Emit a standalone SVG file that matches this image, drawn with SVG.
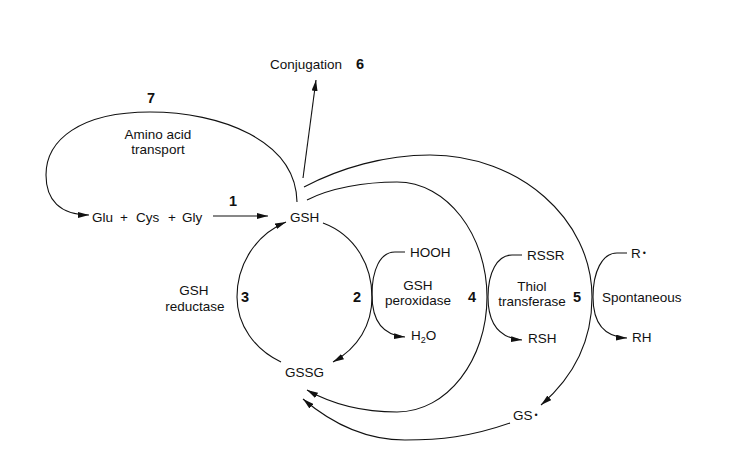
<svg xmlns="http://www.w3.org/2000/svg" width="748" height="460" viewBox="0 0 748 460">
<style>
text{font-family:"Liberation Sans",Arial,sans-serif;font-size:13.5px;fill:#111}
.n{font-weight:bold;font-size:14.5px}
.c{text-anchor:middle}
.d{font-size:9px}
.l{fill:none;stroke:#111;stroke-width:1.1}
.a{marker-end:url(#ah)}
</style>
<defs>
<marker id="ah" markerUnits="userSpaceOnUse" markerWidth="12" markerHeight="6" refX="11" refY="3" orient="auto">
<path d="M0,0 L11,3 L0,6 z" fill="#111"/>
</marker>
</defs>
<rect width="748" height="460" fill="#fff"/>
<g id="connectors">
<path class="l a" d="M297 202 C296 140,220 112,150 112 C80 112,46 140,46 175 C46 200,60 215,89 215"/>
<path class="l a" d="M213 216 L268 216"/>
<path class="l a" d="M303 178 L316 80"/>
<path class="l a" d="M323 223 C355 235,372 265,372 297 C372 325,358 348,333 362"/>
<path class="l a" d="M281 362 C255 350,237 325,237 297 C237 265,255 235,286 222"/>
<path class="l a" d="M405 252 L395 252 C380 252,372 270,372 295 C372 318,380 335,405 337"/>
<path class="l a" d="M307 200 C330 188,365 182,397 182 C447 182,487 235,487 297 C487 360,447 412,397 412 C360 412,330 403,307 390"/>
<path class="l a" d="M522 255 L512 255 C497 255,488 273,488 297 C488 320,497 338,522 340"/>
<path class="l a" d="M304 187 C340 168,385 155,430 155 C519 155,592 219,592 297 C592 345,570 380,541 405"/>
<path class="l a" d="M627 253 L617 253 C602 253,593 272,593 297 C593 320,602 337,627 338"/>
<path class="l a" d="M510 423 C470 437,440 440,405 440 C365 440,330 422,303 399"/>
</g>
<g id="conjugation"><text x="270" y="69">Conjugation</text><text class="n" x="356" y="69">6</text></g>
<g id="transport"><text class="n c" x="151" y="103">7</text><text class="c" x="158" y="139">Amino acid</text><text class="c" x="158" y="154">transport</text></g>
<g id="aminoacids"><text y="222"><tspan x="92">Glu</tspan><tspan x="120">+</tspan><tspan x="136">Cys</tspan><tspan x="168">+</tspan><tspan x="182">Gly</tspan></text><text class="n c" x="233" y="206">1</text></g>
<g id="gsh"><text x="290" y="222">GSH</text></g>
<g id="gssg"><text x="285" y="377">GSSG</text></g>
<g id="reductase"><text class="c" x="194" y="295">GSH</text><text class="c" x="195" y="311">reductase</text><text class="n c" x="245" y="302">3</text></g>
<g id="peroxidase"><text class="n c" x="357" y="302">2</text><text class="c" x="418" y="290">GSH</text><text class="c" x="418" y="305">peroxidase</text><text x="410" y="257">HOOH</text><text x="411" y="340">H<tspan font-size="9" dy="3">2</tspan><tspan dy="-3">O</tspan></text></g>
<g id="transferase"><text class="n c" x="472" y="302">4</text><text class="c" x="532" y="291">Thiol</text><text class="c" x="532" y="306">transferase</text><text x="527" y="260">RSSR</text><text x="528" y="343">RSH</text></g>
<g id="spontaneous"><text class="n c" x="577" y="302">5</text><text x="602" y="302">Spontaneous</text><text x="631" y="258">R<tspan class="d" dx="2" dy="-2">•</tspan></text><text x="632" y="342">RH</text></g>
<g id="gsradical"><text x="513" y="420">GS<tspan class="d" dx="2" dy="-2">•</tspan></text></g>
</svg>
